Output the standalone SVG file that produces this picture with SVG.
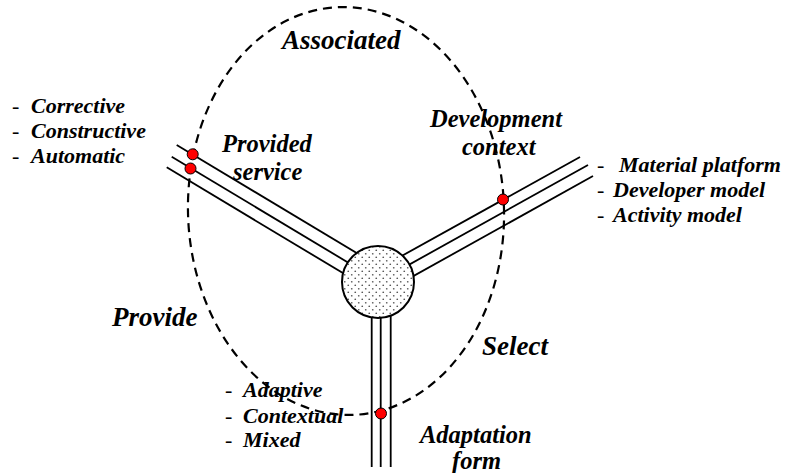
<svg xmlns="http://www.w3.org/2000/svg" width="785" height="473" viewBox="0 0 785 473">
<style>
.arm{stroke:#000;stroke-width:1.8;fill:none}
.hub{stroke:#000;stroke-width:2}
.dot{fill:#f00;stroke:#000;stroke-width:1}
.ell{fill:none;stroke:#000;stroke-width:2.2;stroke-dasharray:9 6}
text{font-family:"Liberation Serif","Times New Roman",serif;font-weight:bold;font-style:italic;fill:#000}
.main{font-size:27px}
.sub{font-size:24.5px}
.lst{font-size:22px}
.dash{font-style:normal;font-weight:normal}
</style>
<defs>
<pattern id="dots" width="7" height="7" patternUnits="userSpaceOnUse">
<rect width="7" height="7" fill="#fff"/>
<circle cx="1.75" cy="1.75" r="0.85" fill="#555"/>
<circle cx="5.25" cy="5.25" r="0.85" fill="#555"/>
</pattern>
</defs>
<rect width="785" height="473" fill="#fff"/>
<g id="connectors">
<g id="arm-provided">
<line class="arm" x1="176.7" y1="145" x2="380" y2="267"/>
<line class="arm" x1="171.7" y1="156.7" x2="380" y2="281.7"/>
<line class="arm" x1="166.7" y1="167.3" x2="375" y2="292.3"/>
</g>
<g id="arm-development">
<line class="arm" x1="580" y1="157" x2="380" y2="268"/>
<line class="arm" x1="588" y1="165" x2="380" y2="280.9"/>
<line class="arm" x1="593" y1="176" x2="385" y2="291.9"/>
</g>
<g id="arm-adaptation">
<line class="arm" x1="371.7" y1="300" x2="371.7" y2="467"/>
<line class="arm" x1="380.7" y1="300" x2="380.7" y2="467"/>
<line class="arm" x1="390.7" y1="300" x2="390.7" y2="467"/>
</g>
</g>
<g id="hub">
<circle class="hub" cx="378" cy="282" r="36" fill="url(#dots)"/>
</g>
<g id="boundary">
<ellipse class="ell" cx="346" cy="211" rx="158" ry="204" transform="rotate(-2 346 211)"/>
</g>
<g id="intersections">
<circle class="dot" cx="192.7" cy="154.3" r="5.5"/>
<circle class="dot" cx="190.5" cy="168.5" r="5.5"/>
<circle class="dot" cx="503" cy="199.5" r="5.5"/>
<circle class="dot" cx="381" cy="413.5" r="5.5"/>
</g>
<g id="labels">
<text class="main" x="282" y="49">Associated</text>
<text class="main" x="112" y="326">Provide</text>
<text class="main" x="482" y="355">Select</text>
<text class="sub" x="222" y="152">Provided</text>
<text class="sub" x="233" y="180">service</text>
<text class="sub" x="430" y="127">Development</text>
<text class="sub" x="462" y="155">context</text>
<text class="sub" x="420" y="443">Adaptation</text>
<text class="sub" x="452" y="469">form</text>
</g>
<g id="list-provided">
<text class="lst" y="113"><tspan class="dash" x="12">-</tspan><tspan x="31">Corrective</tspan></text>
<text class="lst" y="138"><tspan class="dash" x="12">-</tspan><tspan x="31">Constructive</tspan></text>
<text class="lst" y="163"><tspan class="dash" x="12">-</tspan><tspan x="31">Automatic</tspan></text>
</g>
<g id="list-development">
<text class="lst" y="172"><tspan class="dash" x="597">-</tspan><tspan x="619">Material platform</tspan></text>
<text class="lst" y="197"><tspan class="dash" x="597">-</tspan><tspan x="613">Developer model</tspan></text>
<text class="lst" y="222"><tspan class="dash" x="597">-</tspan><tspan x="613">Activity model</tspan></text>
</g>
<g id="list-adaptation">
<text class="lst" y="397"><tspan class="dash" x="225">-</tspan><tspan x="243">Adaptive</tspan></text>
<text class="lst" y="423"><tspan class="dash" x="225">-</tspan><tspan x="243">Contextual</tspan></text>
<text class="lst" y="447"><tspan class="dash" x="225">-</tspan><tspan x="243">Mixed</tspan></text>
</g>
</svg>
